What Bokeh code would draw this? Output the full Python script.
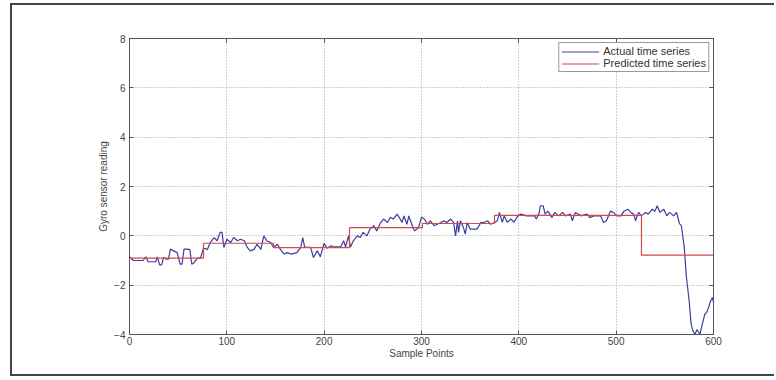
from bokeh.plotting import figure
from bokeh.models import LinearAxis, FixedTicker, Range1d
from bokeh.embed import file_html
from bokeh.resources import INLINE

# ---- data ----
sample_x = [0, 4, 14, 17, 19, 27, 28.5, 31, 33, 35, 38, 40, 42, 45, 49, 52, 54, 56, 59, 62,
            64, 66, 70, 73, 76, 80, 83, 87, 90, 93, 95, 97, 100, 104, 107, 111, 114, 118, 121, 124,
            128, 131, 135, 138, 141, 145, 148, 152, 155, 159, 162, 166, 172, 176, 178, 180, 186, 189, 193, 196,
            200, 203, 207, 210, 217, 220, 222, 225, 227, 230, 234, 237, 240, 244, 247, 251, 254, 258, 261, 265,
            268, 271, 275, 278, 280, 282, 285, 287, 288, 292, 293, 297, 300, 303, 306, 309, 313, 316, 320, 323,
            326, 330, 333, 335, 337, 338, 340, 343, 345, 347, 350, 354, 357, 361, 364, 368, 371, 375, 378, 380,
            381, 383, 385, 388, 392, 395, 399, 402, 408, 416, 418, 421, 422, 425, 427, 430, 434, 437, 441, 445,
            448, 453, 455, 458, 464, 470, 473, 477, 484, 487, 490, 494, 497, 501, 505, 508, 512, 515, 518, 520,
            521, 523, 526, 530, 533, 537, 540, 542, 545, 549, 552, 555, 559, 562, 565, 567, 570, 572, 575, 577,
            579, 581, 583, 586, 588, 591, 593, 595, 597, 599, 600]
actual_y = [-0.85, -1.0, -1.0, -0.85, -1.05, -1.05, -0.85, -1.18, -1.18, -0.88, -0.95, -0.95, -0.54, -0.6, -0.68, -1.15, -1.15, -0.54, -0.54, -0.56,
            -1.15, -1.1, -0.9, -0.9, -0.5, -0.55, -0.27, -0.07, -0.2, 0.14, 0.14, -0.47, -0.14, -0.27, -0.07, -0.2, -0.14, -0.2, -0.47, -0.61,
            -0.55, -0.34, -0.55, 0.0, -0.2, -0.27, -0.47, -0.34, -0.55, -0.74, -0.68, -0.74, -0.68, -0.47, -0.07, -0.47, -0.47, -0.88, -0.6, -0.85,
            -0.3, -0.5, -0.4, -0.45, -0.45, -0.2, -0.45, 0.0, -0.45, -0.2, 0.0, -0.07, 0.14, 0.0, 0.27, 0.41, 0.2, 0.54, 0.68, 0.54,
            0.75, 0.68, 0.88, 0.68, 0.54, 0.81, 0.47, 0.81, 0.68, 0.27, 0.2, 0.34, 0.75, 0.68, 0.47, 0.61, 0.41, 0.47, 0.54, 0.61,
            0.54, 0.68, 0.54, 0.0, 0.61, 0.14, 0.61, 0.34, 0.07, 0.54, 0.27, 0.27, 0.27, 0.54, 0.54, 0.61, 0.47, 0.54, 0.61, 0.95,
            0.81, 0.55, 0.81, 0.55, 0.68, 0.55, 0.81, 0.88, 0.81, 0.81, 0.68, 0.95, 1.22, 1.22, 0.88, 1.0, 0.74, 0.95, 0.81, 0.95,
            0.81, 0.88, 0.61, 0.95, 0.81, 0.88, 0.74, 0.81, 0.81, 0.54, 0.61, 1.0, 0.95, 0.81, 0.81, 1.0, 1.08, 0.95, 0.88, 0.61,
            0.74, 0.95, 0.81, 0.95, 0.88, 1.08, 1.0, 1.22, 0.95, 1.08, 0.81, 0.95, 0.81, 0.95, 0.5, 0.4, -0.47, -1.62, -2.64, -3.58,
            -3.86, -4.0, -3.8, -4.0, -3.66, -3.18, -3.1, -2.9, -2.64, -2.5, -2.7]

step_x = [0, 76, 148, 226, 301, 375, 526, 600]
predicted_y = [-0.9, -0.3, -0.48, 0.33, 0.5, 0.83, -0.78, -0.78]

x_ticks = [0, 100, 200, 300, 400, 500, 600]
y_ticks = [-4, -2, 0, 2, 4, 6, 8]

FONT = "Liberation Sans"

p = figure(width=764, height=373, output_backend="svg", toolbar_location=None,
           x_range=Range1d(0, 600), y_range=Range1d(-4, 8),
           min_border_left=117, min_border_right=63, min_border_top=33, min_border_bottom=44,
           background_fill_color="white", border_fill_color="white",
           styles={"margin-left": "10px", "margin-top": "3px",
                   "border-left": "2px solid #444444",
                   "border-top": "2px solid #444444",
                   "border-bottom": "2px solid #444444"})

p.line(sample_x, actual_y, line_color="#3c3f9e", line_width=1.2, legend_label="Actual time series")
p.step(step_x, predicted_y, mode="after", line_color="#d24a4a", line_width=1.2,
       legend_label="Predicted time series")

for ax in (p.xaxis[0], p.yaxis[0]):
    ax.major_tick_in = 4
    ax.major_tick_out = 0
    ax.minor_tick_line_color = None
    ax.axis_line_color = "#555555"
    ax.major_tick_line_color = "#555555"
    ax.major_label_text_font = FONT
    ax.major_label_text_font_size = "10px"
    ax.major_label_text_color = "#444444"
    ax.axis_label_text_font = FONT
    ax.axis_label_text_font_size = "10px"
    ax.axis_label_text_font_style = "normal"
    ax.axis_label_text_color = "#444444"

p.xaxis[0].ticker = FixedTicker(ticks=x_ticks)
p.yaxis[0].ticker = FixedTicker(ticks=y_ticks)
p.xaxis[0].axis_label = "Sample Points"
p.yaxis[0].axis_label = "Gyro sensor reading"
p.xaxis[0].major_label_standoff = 2
p.xaxis[0].axis_label_standoff = 0
p.yaxis[0].major_label_standoff = 4
p.yaxis[0].axis_label_standoff = 2

top_ax = LinearAxis(ticker=FixedTicker(ticks=x_ticks), major_label_text_color=None,
                    major_tick_in=4, major_tick_out=0, minor_tick_line_color=None,
                    axis_line_color="#555555", major_tick_line_color="#555555")
right_ax = LinearAxis(ticker=FixedTicker(ticks=y_ticks), major_label_text_color=None,
                      major_tick_in=4, major_tick_out=0, minor_tick_line_color=None,
                      axis_line_color="#555555", major_tick_line_color="#555555")
p.add_layout(top_ax, "above")
p.add_layout(right_ax, "right")

p.xgrid.ticker = FixedTicker(ticks=x_ticks)
p.ygrid.ticker = FixedTicker(ticks=y_ticks)
for g in (p.xgrid[0], p.ygrid[0]):
    g.grid_line_color = "#a0a0a0"
    g.grid_line_dash = "1 2"
    g.grid_line_width = 1

p.outline_line_color = "#555555"

p.legend.location = "top_right"
p.legend.margin = 4
p.legend.padding = 2
p.legend.spacing = 0
p.legend.glyph_width = 38
p.legend.glyph_height = 11
p.legend.label_height = 11
p.legend.label_standoff = 4
p.legend.label_text_font = FONT
p.legend.label_text_font_size = "11px"
p.legend.label_text_color = "#333333"
p.legend.border_line_color = "#333333"
p.legend.border_line_width = 1
p.legend.background_fill_color = "white"

open("out.html", "w").write(file_html(p, INLINE))
